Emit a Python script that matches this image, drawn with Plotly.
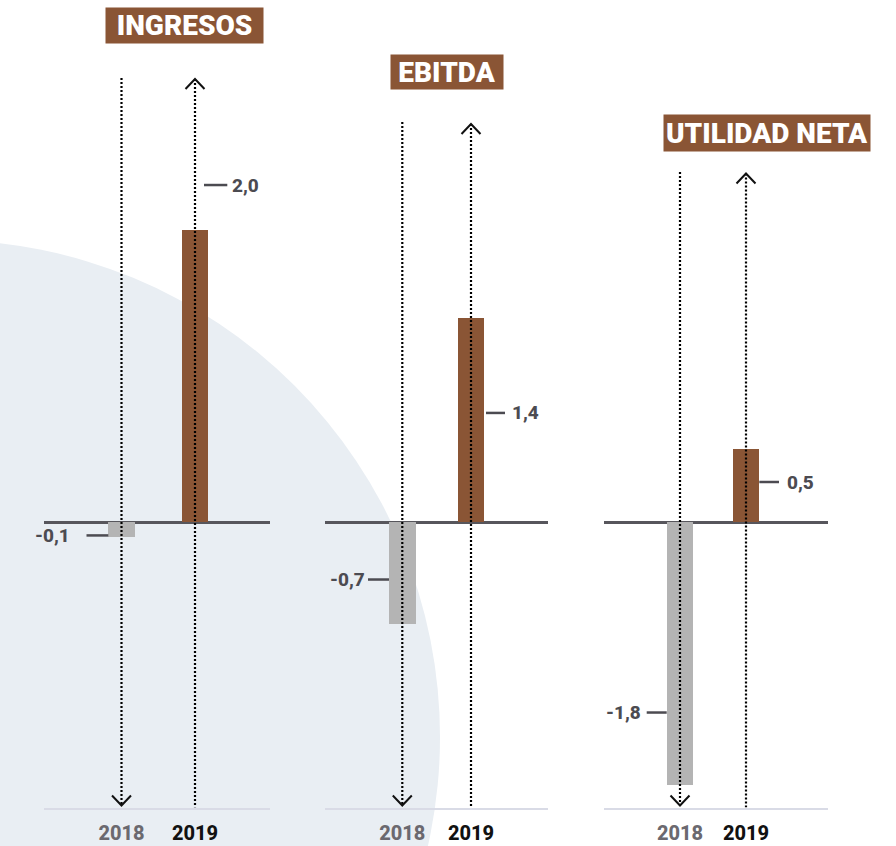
import plotly.graph_objects as go

# --- data ---------------------------------------------------------------
panels = ["INGRESOS", "EBITDA", "UTILIDAD NETA"]
years = ["2018", "2019"]
values_2018 = [-0.1, -0.7, -1.8]
values_2019 = [2.0, 1.4, 0.5]

# --- styling ------------------------------------------------------------
W, H = 896, 846
BROWN = "#8a5535"
GREY_BAR = "#b4b4b4"
ZERO_CLR = "#57565c"
BASE_CLR = "#d9dbe6"
LABEL_CLR = "#4c4b51"
FONT = "Roboto"

ZERO_PX = 522          # pixel row of the zero line
PX_PER_UNIT = 146      # vertical scale
BASE_PX = 807.5        # pixel row of the bottom baseline
BAR_PX = 26.5          # bar width in pixels

# per panel: baseline left, baseline right, 2018 centre, 2019 centre (pixels)
panel_px = [(44, 270, 121.5, 195), (325, 548, 402.3, 471), (604, 828, 680, 746)]
# tops of the dotted guides (2018 line, 2019 arrow tip), pixels
guide_top_px = [(78, 79), (122, 124), (172, 173.5)]
# heights at which the value callouts sit (value units)
callout_2018 = [-0.092, -0.394, -1.305]
callout_2019 = [2.308, 0.747, 0.274]
# callout dash extents relative to the bar centre (pixels)
dash_2018 = [(-35, -13.2), (-34.3, -13.3), (-33.3, -13.3)]
dash_2019 = [(9, 32.3), (15, 34), (13.3, 33)]
text_gap_2018 = [15, 1.5, 4]
text_gap_2019 = [2.5, 4.5, 5.5]
# title boxes: centre x, centre y, width, height (pixels)
title_box = [(184.5, 25.8, 157, 35), (447, 72, 112, 34), (767, 133, 206, 36)]


def v_of(px):
    return (ZERO_PX - px) / PX_PER_UNIT


y_top = v_of(0)
y_bot = v_of(BASE_PX)

fig = go.Figure()
layout_axes = {}
shapes = []
annotations = []

# soft circle in the background
cx, cy, r = -57, 737, 497
shapes.append(dict(type="circle", xref="paper", yref="paper", layer="below",
                   x0=(cx - r) / W, x1=(cx + r) / W,
                   y0=1 - (cy + r) / H, y1=1 - (cy - r) / H,
                   fillcolor="#e9eef3", line=dict(width=0)))

for i, name in enumerate(panels):
    d0, d1, p18, p19 = panel_px[i]
    u = p19 - p18
    xa = "x" if i == 0 else f"x{i + 1}"
    key = "xaxis" if i == 0 else f"xaxis{i + 1}"
    layout_axes[key] = dict(
        domain=[d0 / W, d1 / W],
        range=[(d0 - p18) / u, (d1 - p18) / u],
        anchor="y",
        tickvals=[0, 1],
        ticktext=[f"<span style='color:#6b696f'>{years[0]}</span>",
                  f"<span style='color:#111111'>{years[1]}</span>"],
        tickfont=dict(family=FONT, size=20, weight=800),
        ticks="outside", ticklen=6, tickcolor="rgba(0,0,0,0)",
        showline=True, linecolor=BASE_CLR, linewidth=2,
        showgrid=False, zeroline=False, fixedrange=True,
    )

    # bars
    fig.add_trace(go.Bar(
        x=[0, 1], y=[values_2018[i], values_2019[i]],
        width=[BAR_PX / u, BAR_PX / u],
        marker=dict(color=[GREY_BAR, BROWN], line=dict(width=0)),
        xaxis=xa, yaxis="y", showlegend=False, hoverinfo="skip",
    ))

    # dotted guides
    t18, t19 = guide_top_px[i]
    tip18 = v_of(BASE_PX - 2)
    for xv, top, bot in ((0, v_of(t18), tip18), (1, v_of(t19), y_bot)):
        fig.add_trace(go.Scatter(
            x=[xv, xv], y=[top, bot], mode="lines",
            line=dict(color="#000000", width=2.2, dash="2px,2px"),
            xaxis=xa, yaxis="y", showlegend=False, hoverinfo="skip",
        ))

    # chevrons on the guides
    hw, hh = 9.5 / u, 10 / PX_PER_UNIT
    for xv, tip, sgn in ((0, tip18, 1), (1, v_of(t19), -1)):
        fig.add_trace(go.Scatter(
            x=[xv - hw, xv, xv + hw], y=[tip + sgn * hh, tip, tip + sgn * hh],
            mode="lines", line=dict(color="#111111", width=2),
            xaxis=xa, yaxis="y", showlegend=False, hoverinfo="skip",
        ))

    # value callouts
    for xv, val, lvl, (a, b), gap, side in (
            (0, values_2018[i], callout_2018[i], dash_2018[i], text_gap_2018[i], "right"),
            (1, values_2019[i], callout_2019[i], dash_2019[i], text_gap_2019[i], "left")):
        shapes.append(dict(type="line", xref=xa, yref="y",
                           x0=xv + a / u, x1=xv + b / u, y0=lvl, y1=lvl,
                           line=dict(color=LABEL_CLR, width=2.5)))
        tx = xv + (a - gap) / u if side == "right" else xv + (b + gap) / u
        annotations.append(dict(
            x=tx, y=lvl, xref=xa, yref="y", showarrow=False,
            xanchor=side, yanchor="middle",
            text=f"{val:.1f}".replace(".", ","),
            font=dict(family=FONT, size=19, color=LABEL_CLR, weight=800),
        ))

    # panel title
    bx, by, bw, bh = title_box[i]
    annotations.append(dict(
        x=bx / W, y=1 - by / H, xref="paper", yref="paper", showarrow=False,
        xanchor="center", yanchor="middle", text=name,
        font=dict(family=FONT, size=28, color="white", weight=900),
        bgcolor=BROWN, width=bw, height=bh, borderpad=0, valign="middle",
    ))

fig.update_layout(
    width=W, height=H,
    margin=dict(l=0, r=0, t=0, b=0),
    paper_bgcolor="white", plot_bgcolor="rgba(0,0,0,0)",
    yaxis=dict(domain=[(H - BASE_PX) / H, 1], range=[y_bot, y_top],
               visible=True, showticklabels=False, showgrid=False,
               zeroline=True, zerolinecolor=ZERO_CLR, zerolinewidth=2.7,
               showline=False, fixedrange=True),
    shapes=shapes, annotations=annotations,
    bargap=0, showlegend=False,
    **layout_axes,
)

fig.write_html("out.html")
